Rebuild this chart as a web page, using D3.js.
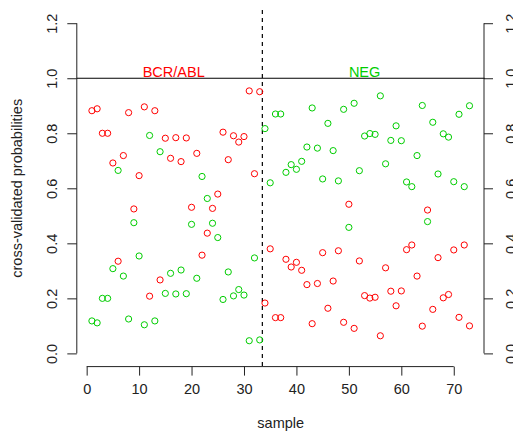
<!DOCTYPE html>
<html>
<head>
<meta charset="utf-8">
<script src="https://cdn.jsdelivr.net/npm/d3@7"></script>
<style>
  body { margin: 0; background: #fff; }
  svg { display: block; font-family: "Liberation Sans", Arial, sans-serif; }
</style>
</head>
<body>
<svg width="513" height="435"></svg>
<script>
// sample numbers 1..73
const samples = d3.range(1, 74);

// cross-validated probability of BCR/ABL (red) for each sample
const pBCR = [0.882, 0.889, 0.800, 0.800, 0.692, 0.335, 0.719, 0.875, 0.525, 0.646,
              0.896, 0.208, 0.882, 0.267, 0.782, 0.709, 0.784, 0.697, 0.783, 0.531,
              0.727, 0.357, 0.437, 0.527, 0.579, 0.804, 0.704, 0.791, 0.768, 0.788,
              0.954, 0.653, 0.951, 0.183, 0.380, 0.130, 0.130, 0.342, 0.314, 0.331,
              0.302, 0.250, 0.108, 0.254, 0.366, 0.164, 0.263, 0.373, 0.113, 0.542,
              0.091, 0.336, 0.210, 0.201, 0.204, 0.064, 0.311, 0.226, 0.173, 0.227,
              0.377, 0.394, 0.281, 0.099, 0.521, 0.160, 0.348, 0.202, 0.214, 0.376,
              0.131, 0.394, 0.100];

// cross-validated probability of NEG (green) for each sample
const pNEG = [0.118, 0.111, 0.200, 0.200, 0.308, 0.665, 0.281, 0.125, 0.475, 0.354,
              0.104, 0.792, 0.118, 0.733, 0.218, 0.291, 0.216, 0.303, 0.217, 0.469,
              0.273, 0.643, 0.563, 0.473, 0.421, 0.196, 0.296, 0.209, 0.232, 0.212,
              0.046, 0.347, 0.049, 0.817, 0.620, 0.870, 0.870, 0.658, 0.686, 0.669,
              0.698, 0.750, 0.892, 0.746, 0.634, 0.836, 0.737, 0.627, 0.887, 0.458,
              0.909, 0.664, 0.790, 0.799, 0.796, 0.936, 0.689, 0.774, 0.827, 0.773,
              0.623, 0.606, 0.719, 0.901, 0.479, 0.840, 0.652, 0.798, 0.786, 0.624,
              0.869, 0.606, 0.900];

const xTicks = [0, 10, 20, 30, 40, 50, 60, 70];
const yTicks = [0.0, 0.2, 0.4, 0.6, 0.8, 1.0, 1.2];

// class labels and where the split between them is
const groupNames = ["BCR/ABL", "NEG"];
const groupColors = ["#ff0000", "#00cd00"];
const groupLabelX = [16.6, 53.0];
const splitAt = 33.5;

const svg = d3.select('svg');

// plot region, like R's default margins
const plotLeft = 76.8, plotRight = 484.6, plotTop = 10, plotBottom = 366.6;

const x = d3.scaleLinear().domain([-1.88, 75.88]).range([plotLeft, plotRight]);
const y = d3.scaleLinear().domain([-0.048, 1.248]).range([plotBottom, plotTop]);

// bottom axis
const xAxis = svg.append('g')
    .attr('transform', `translate(0,${plotBottom})`)
    .call(d3.axisBottom(x).tickValues(xTicks).tickSize(9).tickPadding(8).tickFormat(d3.format('d')));

// left axis with rotated labels
const yAxisL = svg.append('g')
    .attr('transform', `translate(${plotLeft},0)`)
    .call(d3.axisLeft(y).tickValues(yTicks).tickSize(9.5).tickFormat(d3.format('.1f')));
yAxisL.selectAll('text')
    .attr('transform', 'translate(-20,0) rotate(-90)')
    .attr('x', 0).attr('y', 0).attr('dy', 0)
    .attr('text-anchor', 'middle');

// right axis, labels mostly cut by the page edge
const yAxisR = svg.append('g')
    .attr('transform', `translate(${plotRight - 0.6},0)`)
    .call(d3.axisRight(y).tickValues(yTicks).tickSize(9).tickFormat(d3.format('.1f')));
yAxisR.selectAll('text')
    .attr('transform', 'translate(31.6,0) rotate(-90)')
    .attr('x', 0).attr('y', 0).attr('dy', 0)
    .attr('text-anchor', 'middle');

[xAxis, yAxisL, yAxisR].forEach((g) => {
    g.select('.domain').attr('stroke', '#222').attr('stroke-width', 1);
    g.selectAll('.tick line').attr('stroke', '#222');
    g.selectAll('text').attr('font-size', '14.5px').attr('fill', '#222')
        .attr('font-family', '"Liberation Sans", Arial, sans-serif');
});
// R axis line only runs between the first and last ticks
xAxis.select('.domain').attr('d', `M${x(xTicks[0])},0H${x(xTicks[xTicks.length - 1])}`);
yAxisL.select('.domain').attr('d', `M0,${y(yTicks[0])}V${y(yTicks[yTicks.length - 1])}`);
yAxisR.select('.domain').attr('d', `M0,${y(yTicks[0])}V${y(yTicks[yTicks.length - 1])}`);

// horizontal line at 1 and the dashed split line
svg.append('line')
    .attr('x1', plotLeft).attr('x2', plotRight)
    .attr('y1', y(1)).attr('y2', y(1))
    .attr('stroke', '#000').attr('stroke-width', 1.2);

svg.append('line')
    .attr('x1', x(splitAt)).attr('x2', x(splitAt))
    .attr('y1', plotTop).attr('y2', plotBottom)
    .attr('stroke', '#000').attr('stroke-width', 1.2)
    .attr('stroke-dasharray', '4,4');

// group labels sitting on the line at 1
svg.selectAll('text.group').data(groupNames).enter().append('text')
    .attr('class', 'group')
    .attr('x', (d, i) => x(groupLabelX[i]))
    .attr('y', y(1) - 1)
    .attr('text-anchor', 'middle')
    .attr('font-size', '14.5px')
    .attr('fill', (d, i) => groupColors[i])
    .text((d) => d);

// the points
const drawPoints = (values, color) => {
    svg.append('g').selectAll('circle').data(values).enter().append('circle')
        .attr('cx', (d, i) => x(samples[i]))
        .attr('cy', (d) => y(d))
        .attr('r', 3.1)
        .attr('fill', 'none')
        .attr('stroke', color)
        .attr('stroke-width', 1);
};
drawPoints(pNEG, groupColors[1]);
drawPoints(pBCR, groupColors[0]);

// axis titles
svg.append('text')
    .attr('x', (plotLeft + plotRight) / 2)
    .attr('y', 428)
    .attr('text-anchor', 'middle')
    .attr('font-size', '14.5px')
    .attr('fill', '#222')
    .text('sample');

svg.append('text')
    .attr('transform', `translate(22,${(plotTop + plotBottom) / 2}) rotate(-90)`)
    .attr('text-anchor', 'middle')
    .attr('font-size', '14.5px')
    .attr('fill', '#222')
    .text('cross-validated probabilities');
</script>
</body>
</html>
